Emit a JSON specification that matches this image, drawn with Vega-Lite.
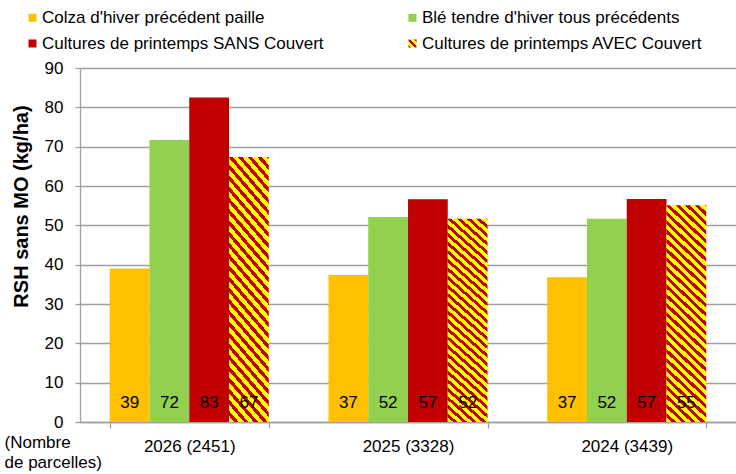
{
  "$schema": "https://vega.github.io/schema/vega-lite/v6.json",
  "autosize": "none",
  "padding": {"left": 80, "top": 68, "right": 0, "bottom": 52},
  "width": 656,
  "height": 354,
  "background": "white",
  "config": {"view": {"stroke": null}, "font": "Liberation Sans"},
  "data": {"values": [
    {"annee": "2026 (2451)", "serie": "Colza d'hiver précédent paille", "valeur": 39.0},
    {"annee": "2026 (2451)", "serie": "Blé tendre d'hiver tous précédents", "valeur": 71.7},
    {"annee": "2026 (2451)", "serie": "Cultures de printemps SANS Couvert", "valeur": 82.5},
    {"annee": "2026 (2451)", "serie": "Cultures de printemps AVEC Couvert", "valeur": 67.4},
    {"annee": "2025 (3328)", "serie": "Colza d'hiver précédent paille", "valeur": 37.4},
    {"annee": "2025 (3328)", "serie": "Blé tendre d'hiver tous précédents", "valeur": 52.1},
    {"annee": "2025 (3328)", "serie": "Cultures de printemps SANS Couvert", "valeur": 56.6},
    {"annee": "2025 (3328)", "serie": "Cultures de printemps AVEC Couvert", "valeur": 51.7},
    {"annee": "2024 (3439)", "serie": "Colza d'hiver précédent paille", "valeur": 36.8},
    {"annee": "2024 (3439)", "serie": "Blé tendre d'hiver tous précédents", "valeur": 51.7},
    {"annee": "2024 (3439)", "serie": "Cultures de printemps SANS Couvert", "valeur": 56.7},
    {"annee": "2024 (3439)", "serie": "Cultures de printemps AVEC Couvert", "valeur": 55.1}
  ]},
  "encoding": {
    "x": {
      "field": "annee", "type": "nominal", "sort": null,
      "scale": {"paddingInner": 0.273, "paddingOuter": 0.136},
      "axis": {
        "title": ["(Nombre", "de parcelles)"],
        "titleX": -76, "titleY": 12, "titleAlign": "left", "titleBaseline": "top", "titleAngle": 0,
        "titleFont": "Liberation Sans", "titleFontSize": 17, "titleFontWeight": "normal", "titleColor": "#000", "titleLineHeight": 20,
        "labelFont": "Liberation Sans", "labelFontSize": 17, "labelColor": "#000", "labelAngle": 0, "labelPadding": 10,
        "tickBand": "extent", "tickSize": 6, "tickColor": "#a0a0a0", "tickWidth": 1.3,
        "domainColor": "#a0a0a0", "domainWidth": 1.3
      }
    },
    "xOffset": {
      "field": "serie", "type": "nominal",
      "sort": ["Colza d'hiver précédent paille", "Blé tendre d'hiver tous précédents", "Cultures de printemps SANS Couvert", "Cultures de printemps AVEC Couvert"],
      "scale": {"paddingInner": 0, "paddingOuter": 0}
    }
  },
  "layer": [
    {
      "mark": {"type": "bar", "strokeWidth": 0},
      "encoding": {
        "y": {
          "field": "valeur", "type": "quantitative",
          "scale": {"domain": [0, 90], "nice": false},
          "axis": {
            "title": "RSH sans MO (kg/ha)",
            "titleX": -59, "titleY": 138, "titleAngle": -90, "titleAlign": "center", "titleBaseline": "middle",
            "titleFont": "Liberation Sans", "titleFontSize": 20, "titleFontWeight": "bold", "titleColor": "#000",
            "values": [0, 10, 20, 30, 40, 50, 60, 70, 80, 90], "labelOverlap": false,
            "labelFont": "Liberation Sans", "labelFontSize": 17, "labelColor": "#000", "labelPadding": 12,
            "grid": true, "gridColor": "#a0a0a0", "gridWidth": 1.3,
            "tickSize": 5, "tickColor": "#a0a0a0", "tickWidth": 1.3,
            "domainColor": "#a0a0a0", "domainWidth": 1.3
          }
        },
        "color": {
          "condition": {
            "test": "datum.serie === 'Cultures de printemps AVEC Couvert'",
            "value": {
              "gradient": "linear", "x1": 0, "y1": 1, "x2": 0.2, "y2": -0.15,
              "stops": [
                {"offset": 0, "color": "#FFFF00"}, {"offset": 0.0196, "color": "#FFFF00"}, {"offset": 0.0196, "color": "#C00000"}, {"offset": 0.0357, "color": "#C00000"},
                {"offset": 0.0357, "color": "#FFFF00"}, {"offset": 0.0554, "color": "#FFFF00"}, {"offset": 0.0554, "color": "#C00000"}, {"offset": 0.0714, "color": "#C00000"},
                {"offset": 0.0714, "color": "#FFFF00"}, {"offset": 0.0911, "color": "#FFFF00"}, {"offset": 0.0911, "color": "#C00000"}, {"offset": 0.1071, "color": "#C00000"},
                {"offset": 0.1071, "color": "#FFFF00"}, {"offset": 0.1268, "color": "#FFFF00"}, {"offset": 0.1268, "color": "#C00000"}, {"offset": 0.1429, "color": "#C00000"},
                {"offset": 0.1429, "color": "#FFFF00"}, {"offset": 0.1625, "color": "#FFFF00"}, {"offset": 0.1625, "color": "#C00000"}, {"offset": 0.1786, "color": "#C00000"},
                {"offset": 0.1786, "color": "#FFFF00"}, {"offset": 0.1982, "color": "#FFFF00"}, {"offset": 0.1982, "color": "#C00000"}, {"offset": 0.2143, "color": "#C00000"},
                {"offset": 0.2143, "color": "#FFFF00"}, {"offset": 0.2339, "color": "#FFFF00"}, {"offset": 0.2339, "color": "#C00000"}, {"offset": 0.25, "color": "#C00000"},
                {"offset": 0.25, "color": "#FFFF00"}, {"offset": 0.2696, "color": "#FFFF00"}, {"offset": 0.2696, "color": "#C00000"}, {"offset": 0.2857, "color": "#C00000"},
                {"offset": 0.2857, "color": "#FFFF00"}, {"offset": 0.3054, "color": "#FFFF00"}, {"offset": 0.3054, "color": "#C00000"}, {"offset": 0.3214, "color": "#C00000"},
                {"offset": 0.3214, "color": "#FFFF00"}, {"offset": 0.3411, "color": "#FFFF00"}, {"offset": 0.3411, "color": "#C00000"}, {"offset": 0.3571, "color": "#C00000"},
                {"offset": 0.3571, "color": "#FFFF00"}, {"offset": 0.3768, "color": "#FFFF00"}, {"offset": 0.3768, "color": "#C00000"}, {"offset": 0.3929, "color": "#C00000"},
                {"offset": 0.3929, "color": "#FFFF00"}, {"offset": 0.4125, "color": "#FFFF00"}, {"offset": 0.4125, "color": "#C00000"}, {"offset": 0.4286, "color": "#C00000"},
                {"offset": 0.4286, "color": "#FFFF00"}, {"offset": 0.4482, "color": "#FFFF00"}, {"offset": 0.4482, "color": "#C00000"}, {"offset": 0.4643, "color": "#C00000"},
                {"offset": 0.4643, "color": "#FFFF00"}, {"offset": 0.4839, "color": "#FFFF00"}, {"offset": 0.4839, "color": "#C00000"}, {"offset": 0.5, "color": "#C00000"},
                {"offset": 0.5, "color": "#FFFF00"}, {"offset": 0.5196, "color": "#FFFF00"}, {"offset": 0.5196, "color": "#C00000"}, {"offset": 0.5357, "color": "#C00000"},
                {"offset": 0.5357, "color": "#FFFF00"}, {"offset": 0.5554, "color": "#FFFF00"}, {"offset": 0.5554, "color": "#C00000"}, {"offset": 0.5714, "color": "#C00000"},
                {"offset": 0.5714, "color": "#FFFF00"}, {"offset": 0.5911, "color": "#FFFF00"}, {"offset": 0.5911, "color": "#C00000"}, {"offset": 0.6071, "color": "#C00000"},
                {"offset": 0.6071, "color": "#FFFF00"}, {"offset": 0.6268, "color": "#FFFF00"}, {"offset": 0.6268, "color": "#C00000"}, {"offset": 0.6429, "color": "#C00000"},
                {"offset": 0.6429, "color": "#FFFF00"}, {"offset": 0.6625, "color": "#FFFF00"}, {"offset": 0.6625, "color": "#C00000"}, {"offset": 0.6786, "color": "#C00000"},
                {"offset": 0.6786, "color": "#FFFF00"}, {"offset": 0.6982, "color": "#FFFF00"}, {"offset": 0.6982, "color": "#C00000"}, {"offset": 0.7143, "color": "#C00000"},
                {"offset": 0.7143, "color": "#FFFF00"}, {"offset": 0.7339, "color": "#FFFF00"}, {"offset": 0.7339, "color": "#C00000"}, {"offset": 0.75, "color": "#C00000"},
                {"offset": 0.75, "color": "#FFFF00"}, {"offset": 0.7696, "color": "#FFFF00"}, {"offset": 0.7696, "color": "#C00000"}, {"offset": 0.7857, "color": "#C00000"},
                {"offset": 0.7857, "color": "#FFFF00"}, {"offset": 0.8054, "color": "#FFFF00"}, {"offset": 0.8054, "color": "#C00000"}, {"offset": 0.8214, "color": "#C00000"},
                {"offset": 0.8214, "color": "#FFFF00"}, {"offset": 0.8411, "color": "#FFFF00"}, {"offset": 0.8411, "color": "#C00000"}, {"offset": 0.8571, "color": "#C00000"},
                {"offset": 0.8571, "color": "#FFFF00"}, {"offset": 0.8768, "color": "#FFFF00"}, {"offset": 0.8768, "color": "#C00000"}, {"offset": 0.8929, "color": "#C00000"},
                {"offset": 0.8929, "color": "#FFFF00"}, {"offset": 0.9125, "color": "#FFFF00"}, {"offset": 0.9125, "color": "#C00000"}, {"offset": 0.9286, "color": "#C00000"},
                {"offset": 0.9286, "color": "#FFFF00"}, {"offset": 0.9482, "color": "#FFFF00"}, {"offset": 0.9482, "color": "#C00000"}, {"offset": 0.9643, "color": "#C00000"},
                {"offset": 0.9643, "color": "#FFFF00"}, {"offset": 0.9839, "color": "#FFFF00"}, {"offset": 0.9839, "color": "#C00000"}, {"offset": 1, "color": "#C00000"}
              ]
            }
          },
          "field": "serie", "type": "nominal",
          "sort": ["Colza d'hiver précédent paille", "Blé tendre d'hiver tous précédents", "Cultures de printemps SANS Couvert", "Cultures de printemps AVEC Couvert"],
          "scale": {
            "domain": ["Colza d'hiver précédent paille", "Blé tendre d'hiver tous précédents", "Cultures de printemps SANS Couvert", "Cultures de printemps AVEC Couvert"],
            "range": ["#FFC000", "#92D050", "#C00000", "#FFFF00"]
          },
          "legend": {
            "title": null, "orient": "none", "legendX": -56, "legendY": -59,
            "columns": 2, "direction": "horizontal", "columnPadding": 78, "rowPadding": 5,
            "symbolType": "square", "symbolSize": 16, "symbolStrokeWidth": 4, "symbolOpacity": 1,
            "labelFont": "Liberation Sans", "labelFontSize": 17, "labelColor": "#000", "labelOffset": 1, "labelLimit": 400,
            "padding": 0,
            "encoding": {
              "symbols": {
                "stroke": {
                  "condition": [
                    {"test": "indexof(datum.value, 'AVEC') >= 0", "value": {
                      "gradient": "linear", "x1": -0.5, "y1": 1.5, "x2": 1.5, "y2": -0.5,
                      "stops": [
                        {"offset": 0, "color": "#C00000"}, {"offset": 0.15, "color": "#C00000"},
                        {"offset": 0.15, "color": "#FFFF00"}, {"offset": 0.4, "color": "#FFFF00"},
                        {"offset": 0.4, "color": "#C00000"}, {"offset": 0.6, "color": "#C00000"},
                        {"offset": 0.6, "color": "#FFFF00"}, {"offset": 0.85, "color": "#FFFF00"},
                        {"offset": 0.85, "color": "#C00000"}, {"offset": 1, "color": "#C00000"}
                      ]
                    }},
                    {"test": "indexof(datum.value, 'SANS') >= 0", "value": "#C00000"},
                    {"test": "indexof(datum.value, 'Colza') >= 0", "value": "#FFC000"}
                  ],
                  "value": "#92D050"
                }
              }
            }
          }
        }
      }
    },
    {
      "mark": {"type": "text", "font": "Liberation Sans", "fontSize": 17, "color": "#000", "baseline": "middle", "align": "center"},
      "encoding": {
        "y": {
          "datum": 4.8, "type": "quantitative",
          "axis": {
            "title": "RSH sans MO (kg/ha)",
            "titleX": -59, "titleY": 138, "titleAngle": -90, "titleAlign": "center", "titleBaseline": "middle",
            "titleFont": "Liberation Sans", "titleFontSize": 20, "titleFontWeight": "bold", "titleColor": "#000",
            "values": [0, 10, 20, 30, 40, 50, 60, 70, 80, 90], "labelOverlap": false,
            "labelFont": "Liberation Sans", "labelFontSize": 17, "labelColor": "#000", "labelPadding": 12,
            "grid": true, "gridColor": "#a0a0a0", "gridWidth": 1.3,
            "tickSize": 5, "tickColor": "#a0a0a0", "tickWidth": 1.3,
            "domainColor": "#a0a0a0", "domainWidth": 1.3
          }
        },
        "text": {"field": "valeur", "type": "quantitative", "format": ".0f"}
      }
    }
  ]
}
